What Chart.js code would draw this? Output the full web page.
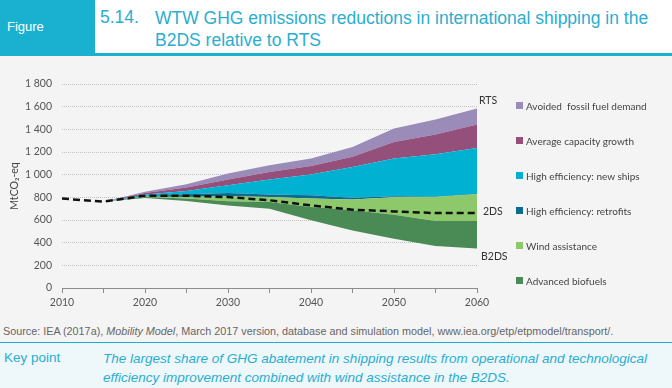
<!DOCTYPE html>
<html lang="en">
<head>
<meta charset="UTF-8">
<title>WTW GHG emissions reductions in international shipping in the B2DS relative to RTS</title>
<script src="https://cdn.jsdelivr.net/npm/chart.js"></script>
<style>
    body {
        margin: 0;
        width: 672px;
        height: 388px;
        position: relative;
        overflow: hidden;
        background: #f4f4f4;
        font-family: "Liberation Sans", Arial, sans-serif;
    }

    .fig-tag {
        position: absolute;
        left: 0;
        top: 0;
        width: 95px;
        height: 53px;
        background: #1ab0cf;
        color: #fff;
        font-size: 13px;
        line-height: 53px;
        padding-left: 7px;
        box-sizing: border-box;
    }

    .fig-title {
        position: absolute;
        left: 96px;
        top: 0;
        right: 0;
        height: 53px;
        background: #fff;
        color: #2aaed0;
        font-size: 17.5px;
    }

    .fig-title .num { position: absolute; left: 4px; top: 7px; }
    .fig-title .txt { position: absolute; left: 59px; top: 7px; width: 512px; line-height: 22px; }

    .rule {
        position: absolute;
        left: 0;
        right: 0;
        top: 53px;
        height: 3px;
        background: #1ab0cf;
    }

    .chart-box {
        position: absolute;
        left: 0;
        top: 60px;
        width: 672px;
        height: 258px;
    }

    .legend {
        position: absolute;
        left: 516px;
        top: 88px;
        font-family: Lato, "Open Sans", sans-serif;
        font-size: 10px;
        color: #444;
    }

    .legend-item {
        height: 35px;
        display: flex;
        align-items: center;
        white-space: pre;
    }

    .legend-item span.box {
        width: 7px;
        height: 7px;
        margin-right: 3px;
        display: inline-block;
    }

    .source {
        position: absolute;
        left: 3px;
        top: 325px;
        font-size: 10.8px;
        color: #666;
    }

    .key {
        position: absolute;
        left: 0;
        right: 0;
        top: 342px;
        bottom: 0;
        background: #eef7fa;
        border-top: 1.5px solid #1ab0cf;
        color: #2aaed0;
        font-size: 13.5px;
    }

    .key .label { position: absolute; left: 4px; top: 7px; }
    .key .txt { position: absolute; left: 103px; top: 6px; width: 566px; line-height: 19px; font-style: italic; }
</style>
</head>
<body>
    <div class="fig-tag">Figure</div>
    <div class="fig-title">
        <span class="num">5.14.</span>
        <span class="txt">WTW GHG emissions reductions in international shipping in the B2DS relative to RTS</span>
    </div>
    <div class="rule"></div>

    <div class="chart-box"><canvas id="chart"></canvas></div>
    <div class="legend" id="legend"></div>

    <div class="source">Source: IEA (2017a), <i>Mobility Model</i>, March 2017 version, database and simulation model, www.iea.org/etp/etpmodel/transport/.</div>
    <div class="key">
        <span class="label">Key point</span>
        <span class="txt">The largest share of GHG abatement in shipping results from operational and technological efficiency improvement combined with wind assistance in the B2DS.</span>
    </div>

<script>
    // years on the x axis
    const years = [2010, 2015, 2020, 2025, 2030, 2035, 2040, 2045, 2050, 2055, 2060];

    // scenario lines (MtCO2-eq)
    const b2ds = [789, 762, 795, 768, 729, 700, 597, 508, 435, 370, 349];
    const twoDs = [789, 762, 815, 815, 802, 774, 729, 691, 676, 661, 661];

    // reductions stacked on top of B2DS, bottom to top, up to RTS
    const advancedBiofuels = [0, 0, 8, 21, 36, 59, 117, 177, 212, 221, 242];
    const windAssistance = [0, 0, 5, 14, 44, 44, 75, 95, 153, 212, 236];
    const retrofits = [0, 0, 7, 24, 29, 21, 29, 17, 9, 2, 3];
    const newShips = [0, 0, 10, 29, 68, 133, 183, 271, 333, 375, 406];
    const capacityGrowth = [0, 0, 13, 30, 51, 67, 76, 89, 147, 174, 207];
    const avoidedFossil = [0, 0, 12, 29, 53, 59, 65, 88, 118, 133, 141];

    // y axis ticks
    const yTicks = [0, 200, 400, 600, 800, 1000, 1200, 1400, 1600, 1800];

    const wedges = [
        { label: 'Advanced biofuels', data: advancedBiofuels, color: '#4a8a55' },
        { label: 'Wind assistance', data: windAssistance, color: '#8dc96b' },
        { label: 'High efficiency: retrofits', data: retrofits, color: '#0d6b8f' },
        { label: 'High efficiency: new ships', data: newShips, color: '#00b1d2' },
        { label: 'Average capacity growth', data: capacityGrowth, color: '#944f7b' },
        { label: 'Avoided  fossil fuel demand', data: avoidedFossil, color: '#9a8bb9' }
    ];

    const fmt = v => String(v).replace(/\B(?=(\d{3})+(?!\d))/g, ' ');

    // scenario names at the right end of the lines
    const endLabels = {
        id: 'endLabels',
        afterDatasetsDraw(chart) {
            const ctx = chart.ctx;
            const last = years.length - 1;
            const x = chart.scales.x.getPixelForValue(years[last]);
            const yRts = chart.getDatasetMeta(chart.data.datasets.length - 1).data[last].y;
            const y2ds = chart.getDatasetMeta(0).data[last].y;
            const yB2ds = chart.getDatasetMeta(1).data[last].y;
            ctx.save();
            ctx.font = '10.5px Lato, "Open Sans", sans-serif';
            ctx.fillStyle = '#333';
            ctx.textBaseline = 'middle';
            ctx.fillText('RTS', x + 2, yRts - 8);
            ctx.fillText('2DS', x + 6, y2ds - 1);
            ctx.fillText('B2DS', x + 4, yB2ds + 8);
            ctx.restore();
        }
    };

    const datasets = [
        {
            label: '2DS',
            data: twoDs,
            stack: '2ds',
            borderColor: '#111',
            borderWidth: 2.5,
            borderDash: [7, 4],
            fill: false,
            pointRadius: 0
        },
        {
            label: 'B2DS',
            data: b2ds,
            stack: 'b2ds',
            borderColor: 'rgba(0,0,0,0)',
            borderWidth: 0,
            fill: false,
            pointRadius: 0
        }
    ];
    wedges.forEach(w => {
        datasets.push({
            label: w.label,
            data: w.data,
            stack: 'b2ds',
            backgroundColor: w.color,
            borderColor: 'rgba(0,0,0,0)',
            borderWidth: 0,
            fill: '-1',
            pointRadius: 0
        });
    });

    new Chart(document.getElementById('chart'), {
        type: 'line',
        data: { labels: years, datasets: datasets },
        options: {
            responsive: true,
            maintainAspectRatio: false,
            animation: false,
            layout: { padding: { top: 24, right: 195, left: 0, bottom: 0 } },
            plugins: {
                legend: { display: false },
                tooltip: { enabled: false }
            },
            scales: {
                x: {
                    type: 'linear',
                    min: years[0],
                    max: years[years.length - 1],
                    afterFit: s => { s.height = 30; },
                    ticks: {
                        stepSize: 5,
                        autoSkip: false,
                        maxRotation: 0,
                        padding: 3,
                        color: '#555',
                        font: { family: 'Lato', size: 10.5 },
                        callback: v => (v % 10 === 0 ? String(v) : '')
                    },
                    grid: { drawOnChartArea: false, drawTicks: true, tickLength: 5, color: '#8c8c8c' },
                    border: { display: true, color: '#8c8c8c', width: 1 }
                },
                y: {
                    stacked: true,
                    min: yTicks[0],
                    max: yTicks[yTicks.length - 1],
                    afterFit: s => { s.width = 62; },
                    afterBuildTicks: s => { s.ticks = yTicks.map(v => ({ value: v })); },
                    ticks: {
                        padding: 10,
                        color: '#555',
                        font: { family: 'Lato', size: 10.5 },
                        callback: v => fmt(v)
                    },
                    grid: { drawTicks: false, color: '#c2c2c2', lineWidth: 1 },
                    border: { display: false, dash: [1, 1] },
                    title: {
                        display: true,
                        text: 'MtCO₂-eq',
                        color: '#444',
                        font: { family: 'Lato', size: 10.5 },
                        padding: { top: 8, bottom: 0 }
                    }
                }
            }
        },
        plugins: [endLabels]
    });

    // legend, top item is the top wedge
    const legend = document.getElementById('legend');
    wedges.slice().reverse().forEach(w => {
        const item = document.createElement('div');
        item.className = 'legend-item';
        item.innerHTML = '<span class="box" style="background:' + w.color + '"></span>' + w.label;
        legend.appendChild(item);
    });
</script>
</body>
</html>
